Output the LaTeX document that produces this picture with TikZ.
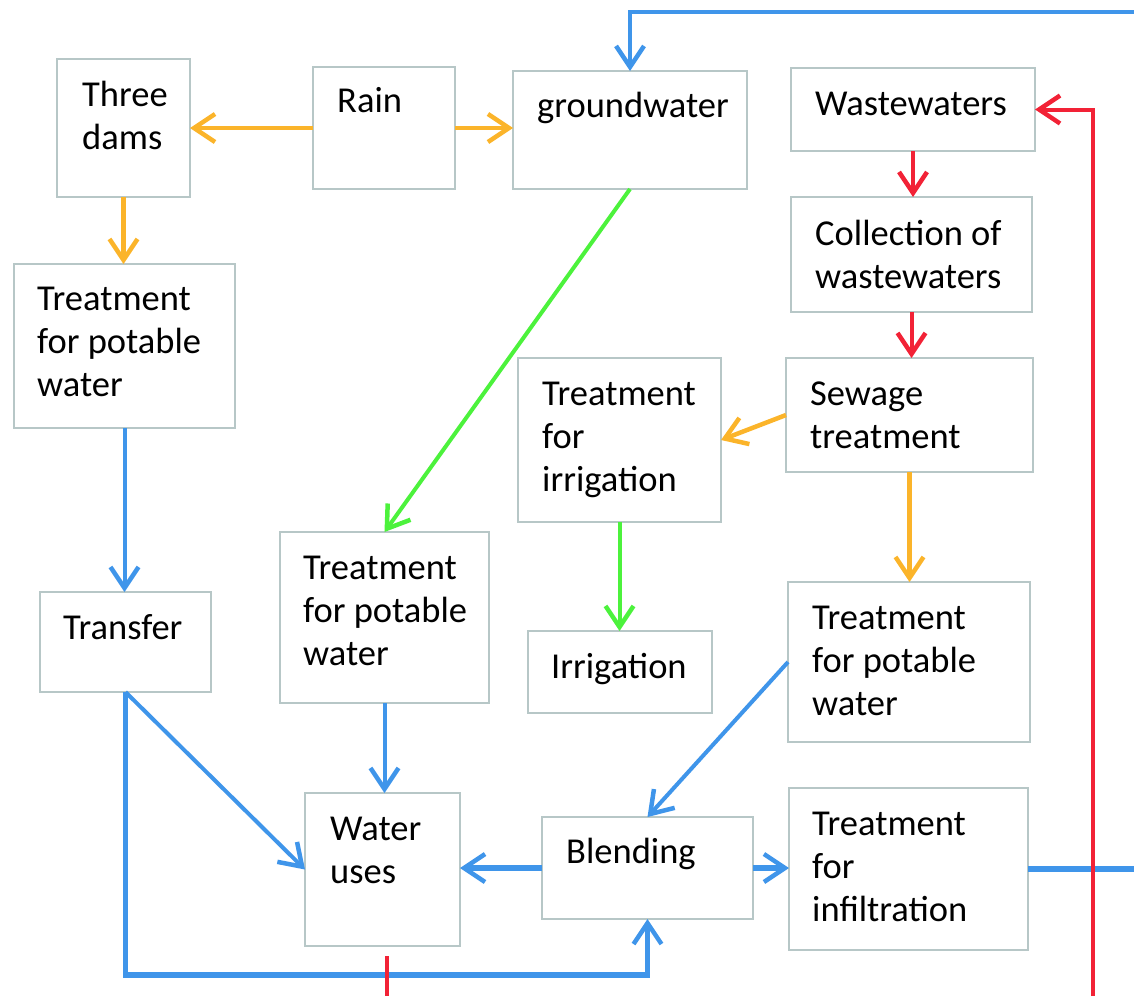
\documentclass[tikz,border=0pt]{standalone}
\usepackage{fontspec}
\setmainfont{Carlito}
\usetikzlibrary{arrows.meta}
\definecolor{boxgray}{HTML}{B7C7C7}
\definecolor{orng}{HTML}{FBB42A}
\definecolor{blu}{HTML}{3F95EA}
\definecolor{grn}{HTML}{4CF23C}
\definecolor{rd}{HTML}{F22236}
\tikzset{
  box/.style={draw=boxgray, line width=2pt, fill=white, inner sep=0pt, outer sep=0pt, anchor=north west},
  txt/.style={anchor=base west, inner sep=0pt, align=left, font=\fontsize{36.5}{43}\selectfont},
  tip/.style={-{Straight Barb[length=21pt,width=28pt,line width=4.5pt]}},
  oline/.style={draw=orng, line width=4.5pt},
  bline/.style={draw=blu, line width=4pt},
  bthick/.style={draw=blu, line width=5.5pt},
  gline/.style={draw=grn, line width=4pt},
  rline/.style={draw=rd, line width=4pt},
}
\begin{document}
\begin{tikzpicture}[x=1pt,y=-1pt]
\useasboundingbox (0,0) rectangle (1134,996);
% boxes
\node[box, minimum width=133pt, minimum height=138pt] (dams) at (57,59) {};
\node[box, minimum width=142pt, minimum height=122pt] (rain) at (313,67) {};
\node[box, minimum width=234pt, minimum height=118pt] (gw) at (513,71) {};
\node[box, minimum width=244pt, minimum height=83pt] (ww) at (791,68) {};
\node[box, minimum width=241pt, minimum height=115pt] (coll) at (791,197) {};
\node[box, minimum width=221pt, minimum height=164pt] (tpl) at (14,264) {};
\node[box, minimum width=247pt, minimum height=114pt] (sew) at (786,358) {};
\node[box, minimum width=203pt, minimum height=164pt] (tirr) at (518,358) {};
\node[box, minimum width=171pt, minimum height=100pt] (transfer) at (40,592) {};
\node[box, minimum width=209pt, minimum height=171pt] (tpm) at (280,532) {};
\node[box, minimum width=184pt, minimum height=82pt] (irr) at (528,631) {};
\node[box, minimum width=242pt, minimum height=160pt] (tpr) at (788,582) {};
\node[box, minimum width=155pt, minimum height=153pt] (uses) at (305,793) {};
\node[box, minimum width=211pt, minimum height=102pt] (blend) at (542,817) {};
\node[box, minimum width=239pt, minimum height=162pt] (tinf) at (789,788) {};
% texts (anchor at baseline of the last line)
\node[txt] (dams-t) at (82,149) {Three\\dams};
\node[txt] (rain-t) at (337,112) {Rain};
\node[txt] (gw-t) at (537,117) {groundwater};
\node[txt] (ww-t) at (815,115) {Wastewaters};
\node[txt] (coll-t) at (815,288) {Collection of\\wastewaters};
\node[txt] (tpl-t) at (37,396) {Treatment\\for potable\\water};
\node[txt] (sew-t) at (810,448) {Sewage\\treatment};
\node[txt] (tirr-t) at (542,491) {Treatment\\for\\irrigation};
\node[txt] (transfer-t) at (63,639) {Transfer};
\node[txt] (tpm-t) at (303,665) {Treatment\\for potable\\water};
\node[txt] (irr-t) at (551,678) {Irrigation};
\node[txt] (tpr-t) at (812,715) {Treatment\\for potable\\water};
\node[txt] (uses-t) at (330,883) {Water\\uses};
\node[txt] (blend-t) at (566,863) {Blending};
\node[txt] (tinf-t) at (812,921) {Treatment\\for\\infiltration};
% free ends
\coordinate (eT) at (1134,12);
\coordinate (eR) at (1134,869);
\coordinate (rB) at (1093,996);
\coordinate (rS1) at (387,956);
\coordinate (rS2) at (387,996);
\coordinate (bot) at (0,975);
% orange
\draw[oline, tip] (rain.west) -- (dams.east |- rain.west);
\draw[oline, tip] (rain.east) -- (gw.west |- rain.east);
\draw[oline, tip] (dams.south) -- (dams.south |- tpl.north);
\draw[oline, tip] (sew.west) -- (tirr.east);
\draw[oline, tip] (sew.south) -- (sew.south |- tpr.north);
% green
\draw[gline, tip] (gw.south) -- (tpm.north);
\draw[gline, tip] (tirr.south) -- (tirr.south |- irr.north);
% blue
\draw[bline, tip] (eT) -| (gw.north);
\draw[bline, tip] (tpl.south) -- (tpl.south |- transfer.north);
\draw[bline, tip] (tpm.south) -- (tpm.south |- uses.north);
\draw[bline, tip] (transfer.south) -- (uses.west);
\draw[bthick, tip] (transfer.south) |- (bot -| blend.south) -- (blend.south);
\draw[bline, tip] (tpr.west) -- (blend.north);
\draw[bthick, tip] (blend.west) -- (uses.east |- blend.west);
\draw[bthick, tip] (blend.east) -- (tinf.west |- blend.east);
\draw[bthick] (tinf.east) -- (eR);
% red
\draw[rline, tip] (ww.south) -- (ww.south |- coll.north);
\draw[rline, tip] (coll.south) -- (coll.south |- sew.north);
\draw[rline, tip] (rB) |- (ww.east);
\draw[rline] (rS1) -- (rS2);
\end{tikzpicture}
\end{document}
